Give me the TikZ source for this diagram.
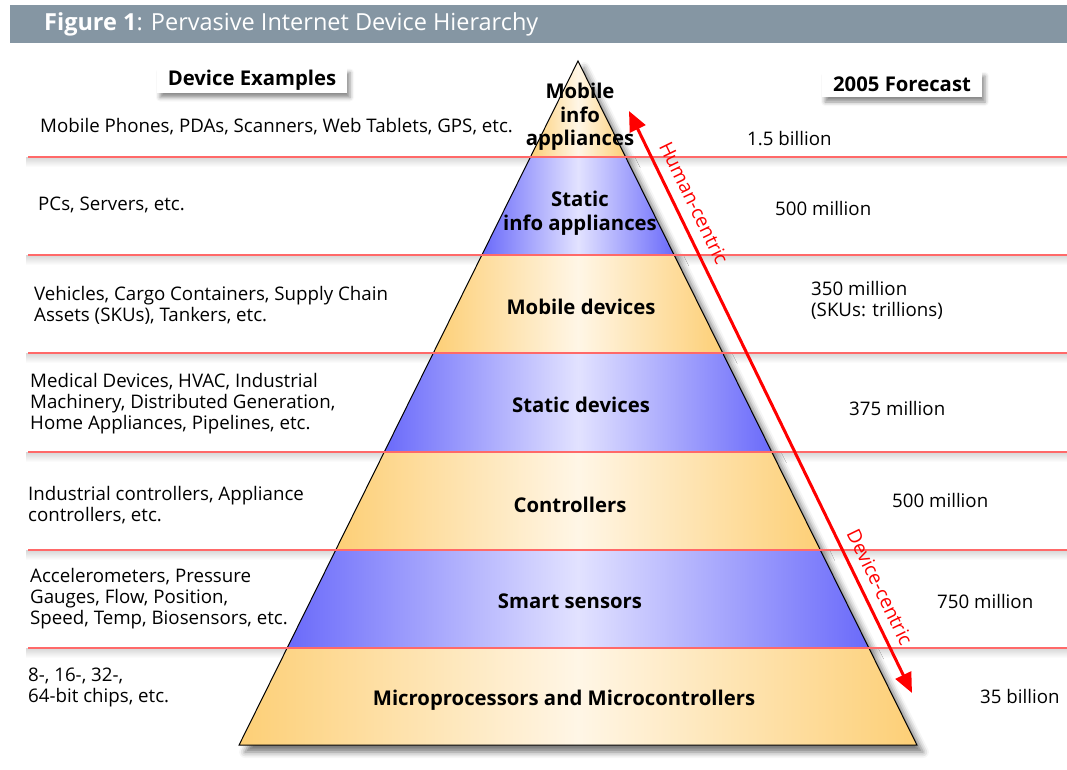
\documentclass[tikz,border=0pt]{standalone}
\usepackage{fontspec}
\setmainfont{Open Sans}
\usetikzlibrary{shadows}
\usetikzlibrary{shadows.blur}
\usetikzlibrary{positioning}
\usetikzlibrary{arrows.meta}
\usetikzlibrary{calc}

\definecolor{barcol}{RGB}{133,150,163}
\definecolor{orcol}{RGB}{253,207,118}
\definecolor{orlight}{RGB}{255,246,230}
\definecolor{blcol}{RGB}{106,106,250}
\definecolor{bllight}{RGB}{226,226,255}
\definecolor{linecol}{RGB}{255,105,105}

\tikzset{
  band/.style={draw=black, line width=1pt},
  orband/.style={band, left color=orcol, right color=orcol, middle color=orlight},
  blband/.style={band, left color=blcol, right color=blcol, middle color=bllight},
  lvl/.style={font=\bfseries\fontsize{20.3}{23.5}\selectfont, align=center, inner sep=0pt},
  ex/.style={font=\fontsize{18.7}{21}\selectfont, align=left, anchor=west, inner sep=0pt},
  head/.style={fill=white, inner sep=0pt, font=\bfseries\fontsize{20.3}{22}\selectfont,
    blur shadow={shadow xshift=3pt, shadow yshift=-5pt, shadow blur radius=4pt, shadow opacity=45}},
  redline/.style={draw=linecol, line width=1.1pt},
  centric/.style={draw=red, line width=3pt, {Triangle[length=20pt,width=17pt]}-{Triangle[length=20pt,width=17pt]}},
  ctext/.style={text=red, rotate=-64.1, font=\fontsize{19.3}{22}\selectfont, inner sep=0pt},
}

\begin{document}
\begin{tikzpicture}[x=1pt,y=-1pt]

  \useasboundingbox (0,0) rectangle (1067,769);

  %title bar
  \fill[barcol] (10,5) rectangle (1067,43);
  \node[anchor=west, text=white, inner sep=0pt, font=\fontsize{23.5}{26}\selectfont] (title) at (44,24)
     {\textbf{Figure 1}: Pervasive Internet Device Hierarchy};

  \def\ax{578};
  \def\ay{61};
  \def\k{0.4955};

  %line shadows
  \foreach \y in {157,255,353,452,550,648}{
    \shade[top color=black!16, bottom color=white] (26,\y) rectangle (1067,\y+10);
  }

  %pyramid shadow
  \fill[white, blur shadow={shadow xshift=6pt, shadow yshift=-7pt, shadow blur radius=6pt, shadow opacity=55}]
     (\ax,\ay) -- ({\ax+\k*(745-\ay)},745) -- ({\ax-\k*(745-\ay)},745) -- cycle;

  %bands
  \foreach \i/\yt/\yb/\sty in {1/61/157/orband, 2/157/255/blband, 3/255/353/orband,
                               4/353/452/blband, 5/452/550/orband, 6/550/648/blband, 7/648/745/orband}{
    \draw[\sty] ({\ax-\k*(\yt-\ay)},\yt) -- ({\ax+\k*(\yt-\ay)},\yt)
       -- ({\ax+\k*(\yb-\ay)},\yb) -- ({\ax-\k*(\yb-\ay)},\yb) -- cycle;
  }

  %red lines
  \foreach \y in {157,255,353,452,550,648}{
    \draw[redline] (28,\y) -- (1067,\y);
  }

  %level names
  \foreach \name/\x/\y/\txt in {mia/580/117/{Mobile\\info\\appliances}, sia/580/213/{Static\\info appliances},
                                md/581/307/{Mobile devices}, sd/581/405/{Static devices},
                                ctl/570/505/{Controllers}, ss/570/601/{Smart sensors},
                                mpc/564/700/{Microprocessors and Microcontrollers}}{
    \node[lvl] (\name) at (\x,\y) {\txt};
  }

  %headers
  \node[head, minimum width=190pt, minimum height=25pt] (hex) at (252,80) {Device Examples};
  \node[head, minimum width=160pt, minimum height=26pt] (hfc) at (902,84) {2005 Forecast};

  %device examples
  \foreach \name/\x/\y/\txt in {ex1/40/127/{Mobile Phones, PDAs, Scanners, Web Tablets, GPS, etc.},
                                ex2/38/205/{PCs, Servers, etc.},
                                ex3/34/305/{Vehicles, Cargo Containers, Supply Chain\\Assets (SKUs), Tankers, etc.},
                                ex4/30/404/{Medical Devices, HVAC, Industrial\\Machinery, Distributed Generation,\\Home Appliances, Pipelines, etc.},
                                ex5/28/505/{Industrial controllers, Appliance\\controllers, etc.},
                                ex6/30/599/{Accelerometers, Pressure\\Gauges, Flow, Position,\\Speed, Temp, Biosensors, etc.},
                                ex7/28/687/{8-, 16-, 32-,\\64-bit chips, etc.}}{
    \node[ex] (\name) at (\x,\y) {\txt};
  }

  %forecast
  \foreach \name/\x/\y/\txt in {fc1/747/139/{1.5 billion}, fc2/775/208/{500 million},
                                fc3/811/300/{350 million\\(SKUs: trillions)}, fc4/849/408/{375 million},
                                fc5/892/500/{500 million}, fc6/937/601/{750 million},
                                fc7/980/696/{35 billion}}{
    \node[ex] (\name) at (\x,\y) {\txt};
  }

  %human / device centric
  \coordinate (hc) at (629,111);
  \coordinate (dc) at (912,693);
  \draw[centric] (hc) -- (dc);
  \node[ctext] (hum) at (694,203) {Human-centric};
  \node[ctext] (dev) at (880,587) {Device-centric};

\end{tikzpicture}
\end{document}
